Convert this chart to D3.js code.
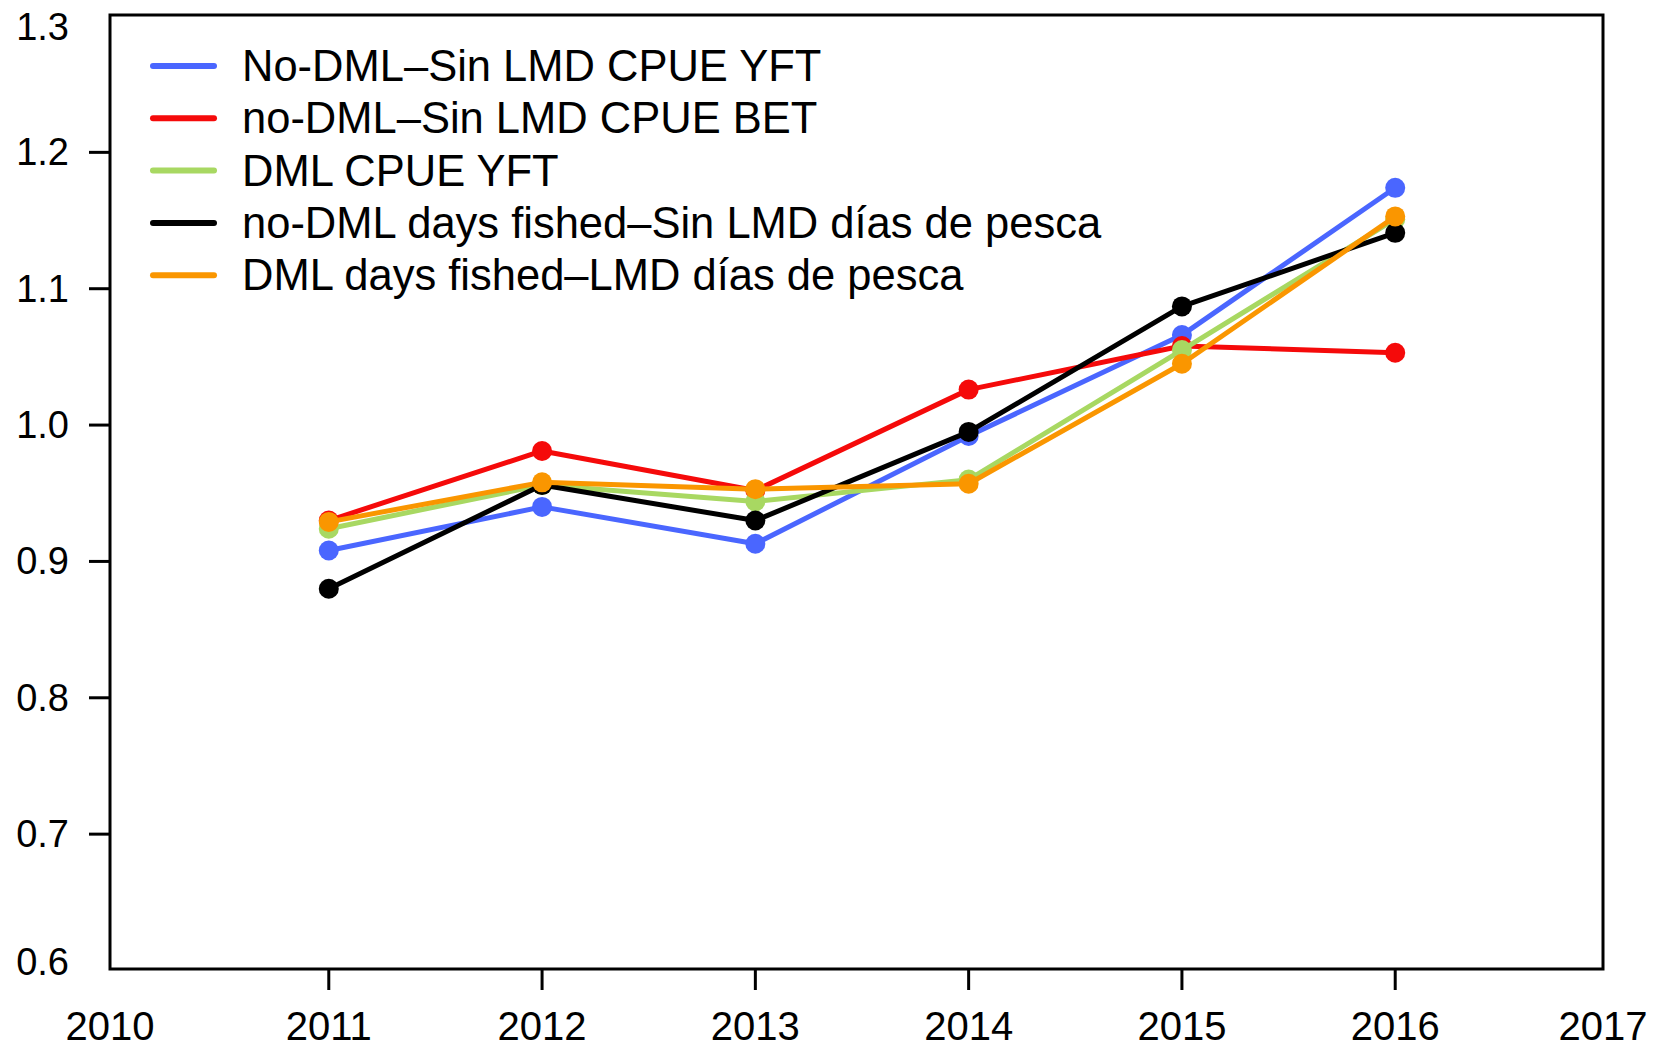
<!DOCTYPE html>
<html><head><meta charset="utf-8">
<script src="https://cdn.jsdelivr.net/npm/d3@7"></script>
<style>body{margin:0;background:#fff}</style>
</head><body>
<svg id="chart" width="1659" height="1047"></svg>
<script>
const years = [2011, 2012, 2013, 2014, 2015, 2016];
const xTickLabels = [2010, 2011, 2012, 2013, 2014, 2015, 2016, 2017];
const xTickMarks = [2011, 2012, 2013, 2014, 2015, 2016];
const yTickLabels = [0.6, 0.7, 0.8, 0.9, 1.0, 1.1, 1.2, 1.3];
const yTickMarks = [0.7, 0.8, 0.9, 1.0, 1.1, 1.2];

const seriesNames = [
  "No-DML\u2013Sin LMD CPUE YFT",
  "no-DML\u2013Sin LMD CPUE BET",
  "DML CPUE YFT",
  "no-DML days fished\u2013Sin LMD días de pesca",
  "DML days fished\u2013LMD días de pesca"
];
const seriesColors = ["#4A66FF", "#F50A0A", "#A8D862", "#000000", "#FA9600"];
const noDmlYft = [0.908, 0.940, 0.913, 0.992, 1.066, 1.174];
const noDmlBet = [0.930, 0.981, 0.952, 1.026, 1.058, 1.053];
const dmlYft   = [0.924, 0.956, 0.944, 0.960, 1.055, 1.151];
const noDmlDays = [0.880, 0.956, 0.930, 0.995, 1.087, 1.141];
const dmlDays  = [0.929, 0.958, 0.953, 0.957, 1.045, 1.153];
const seriesValues = [noDmlYft, noDmlBet, dmlYft, noDmlDays, dmlDays];

const svg = d3.select("#chart");
const font = "'Liberation Sans', Arial, sans-serif";
const L = 110, R = 1603, T = 15, B = 969;

const x = d3.scaleLinear().domain([2010, 2017]).range([L + 5.5, R + 5.5]);
const y = d3.scaleLinear().domain([0.6, 1.3]).range([B + 1.5, T + 1]);

// lines & points
const line = d3.line().x((d, i) => x(years[i])).y(d => y(d));
seriesValues.forEach((vals, k) => {
  const g = svg.append("g");
  g.append("path").datum(vals).attr("d", line)
    .attr("fill", "none").attr("stroke", seriesColors[k])
    .attr("stroke-width", 5).attr("stroke-linejoin", "round");
  g.selectAll("circle").data(vals).join("circle")
    .attr("cx", (d, i) => x(years[i])).attr("cy", d => y(d))
    .attr("r", 10).attr("fill", seriesColors[k]);
});

// frame
svg.append("rect").attr("x", L).attr("y", T).attr("width", R - L).attr("height", B - T)
  .attr("fill", "none").attr("stroke", "#000").attr("stroke-width", 3);

// x ticks
svg.append("g").selectAll("line").data(xTickMarks).join("line")
  .attr("x1", d => x(d)).attr("x2", d => x(d)).attr("y1", B).attr("y2", B + 21)
  .attr("stroke", "#000").attr("stroke-width", 3);
const first = xTickLabels[0], last = xTickLabels[xTickLabels.length - 1];
svg.append("g").selectAll("text").data(xTickLabels).join("text")
  .attr("x", d => d === first ? L : d === last ? R : x(d)).attr("y", B + 57)
  .attr("text-anchor", "middle")
  .attr("dominant-baseline", "central")
  .attr("font-family", font).attr("font-size", 40).text(d => d);

// y ticks
svg.append("g").selectAll("line").data(yTickMarks).join("line")
  .attr("x1", L - 21).attr("x2", L).attr("y1", d => y(d)).attr("y2", d => y(d))
  .attr("stroke", "#000").attr("stroke-width", 3);
svg.append("g").selectAll("text").data(yTickLabels).join("text")
  .attr("x", L - 41).attr("y", d => Math.min(Math.max(y(d), T + 12), B - 7))
  .attr("text-anchor", "end").attr("dominant-baseline", "central")
  .attr("font-family", font).attr("font-size", 38).text(d => d.toFixed(1));

// legend
const leg = svg.append("g");
seriesNames.forEach((name, k) => {
  const ly = 66 + k * 52.3;
  leg.append("line").attr("x1", 153).attr("x2", 214).attr("y1", ly).attr("y2", ly)
    .attr("stroke", seriesColors[k]).attr("stroke-width", 6).attr("stroke-linecap", "round");
  leg.append("text").attr("x", 242).attr("y", ly).attr("dominant-baseline", "central")
    .attr("font-family", font).attr("font-size", 43.5).text(name);
});
</script>
</body></html>
